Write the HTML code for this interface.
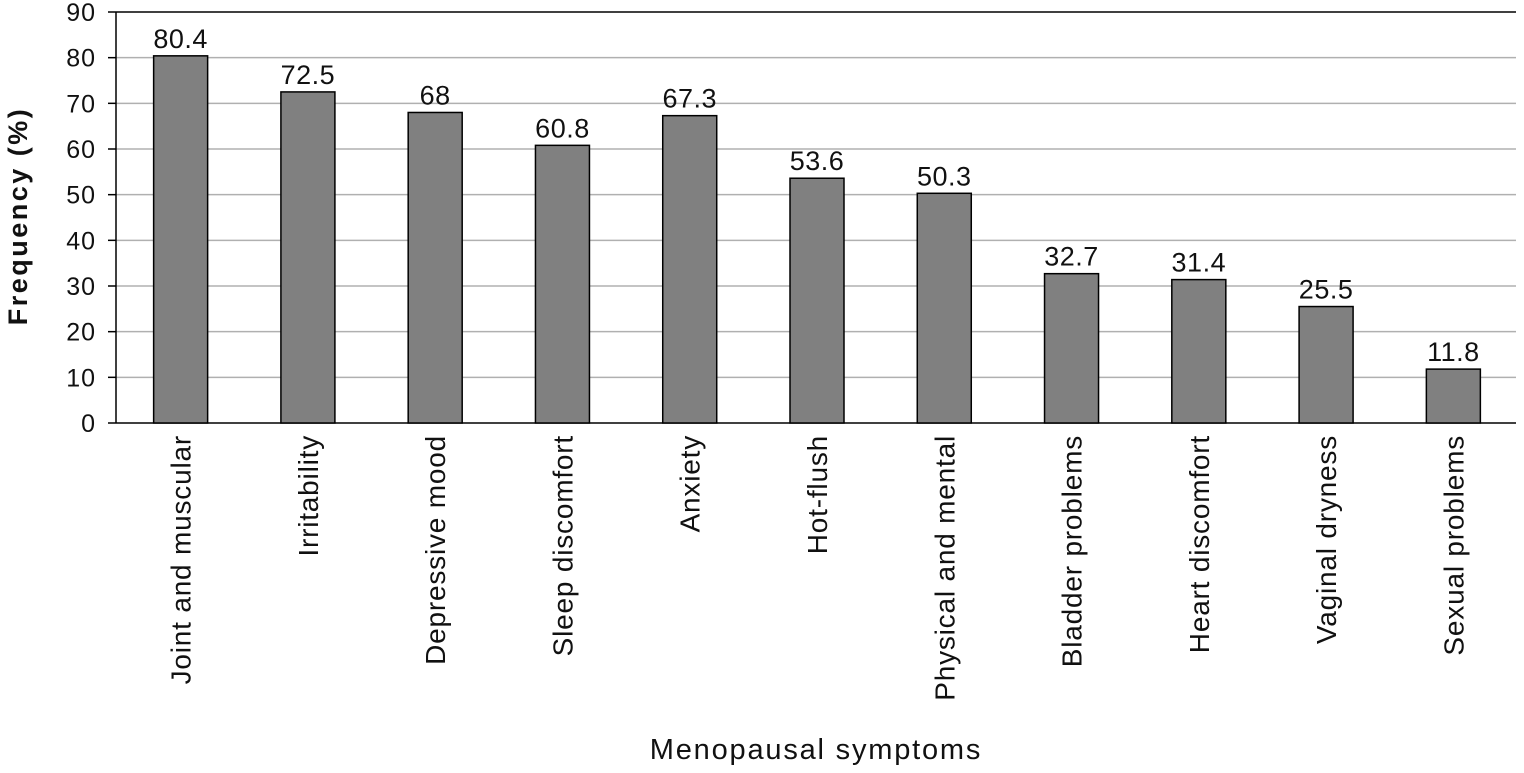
<!DOCTYPE html>
<html><head><meta charset="utf-8"><style>
html,body{margin:0;padding:0;background:#fff}
svg{display:block;font-family:"Liberation Sans",sans-serif}
</style></head><body>
<svg id="chart" width="1524" height="773"></svg>
<script>
const categories=["Joint and muscular","Irritability","Depressive mood","Sleep discomfort","Anxiety","Hot-flush","Physical and mental","Bladder problems","Heart discomfort","Vaginal dryness","Sexual problems"];
const values=[80.4,72.5,68,60.8,67.3,53.6,50.3,32.7,31.4,25.5,11.8];
const valueLabels=["80.4","72.5","68","60.8","67.3","53.6","50.3","32.7","31.4","25.5","11.8"];
const yTicks=[0,10,20,30,40,50,60,70,80,90];
const NS="http://www.w3.org/2000/svg";
const svg=document.getElementById('chart');
const L=116,R=1516,T=12,B=423,yMax=90;
const band=(R-L)/categories.length,bw=54;
const y=v=>B-(v/yMax)*(B-T);
const x=i=>L+band*i+band/2+1;
function mk(tag,attrs,parent){const e=document.createElementNS(NS,tag);for(const k in attrs)e.setAttribute(k,attrs[k]);(parent||svg).appendChild(e);return e;}
yTicks.forEach(t=>{
  const top=t===yTicks[yTicks.length-1];
  const g=mk('line',{x1:L,x2:R,y1:y(t),y2:y(t),stroke:(t===0||top)?'#000':'#b0b0b0','stroke-width':1.5});
  
  
  mk('line',{x1:L-8,x2:L,y1:y(t),y2:y(t),stroke:'#000','stroke-width':1.5});
  const tx=mk('text',{x:L-20,y:y(t)+9,'text-anchor':'end','font-size':25,'letter-spacing':1,fill:'#111'});
  tx.textContent=t;
  
  
});
const ax=mk('line',{x1:L,x2:L,y1:T,y2:B,stroke:'#000','stroke-width':1.5});


categories.forEach((c,i)=>{
  const r=mk('rect',{x:x(i)-bw/2,y:y(values[i]),width:bw,height:B-y(values[i]),fill:'#808080',stroke:'#000','stroke-width':1.5});
  
  
  const vl=mk('text',{x:x(i),y:y(values[i])-8,'text-anchor':'middle','font-size':27,'letter-spacing':0.5,fill:'#111'});
  vl.textContent=valueLabels[i];
  
  
  const cl=mk('text',{transform:`translate(${x(i)+10},435) rotate(-90)`,'text-anchor':'end','font-size':28,'letter-spacing':0.8,fill:'#111'});
  cl.textContent=c;
  
  
});
const yt=mk('text',{transform:'translate(27,216) rotate(-90)','text-anchor':'middle','font-size':27,'font-weight':'bold','letter-spacing':2.5,fill:'#111'});
yt.textContent='Frequency (%)';


const xt=mk('text',{x:816,y:759,'text-anchor':'middle','font-size':29,'letter-spacing':1.8,fill:'#111'});
xt.textContent='Menopausal symptoms';


</script>
</body></html>
